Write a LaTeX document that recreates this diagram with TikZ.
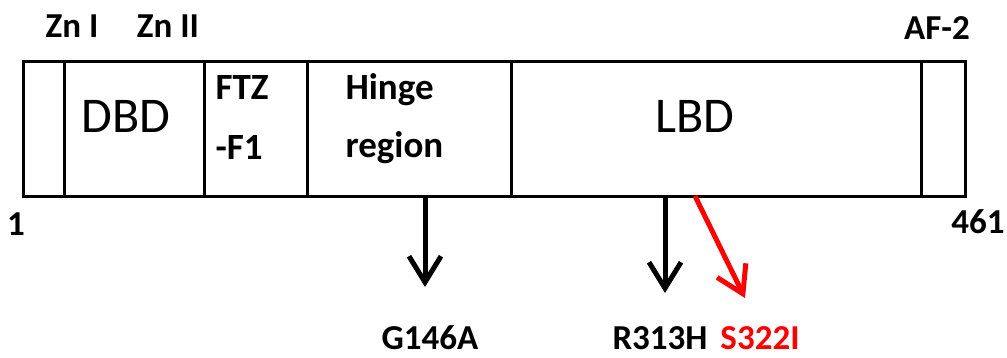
\documentclass[tikz,border=0pt]{standalone}
\usepackage{fontspec}
\setmainfont{Carlito}
\usetikzlibrary{arrows.meta}
\begin{document}
\begin{tikzpicture}[x=1pt,y=-1pt,
  seg/.style={draw,line width=2.8pt,minimum height=135pt,inner sep=0pt,anchor=north west},
  big/.style={font=\fontsize{50}{50}\selectfont,anchor=base},
  mid/.style={font=\bfseries\fontsize{37}{37}\selectfont,anchor=base west},
  lab/.style={font=\bfseries\fontsize{35}{35}\selectfont,anchor=base},
  arr/.style={line width=5pt,-{Straight Barb[length=26pt,width=32pt,line width=5pt]}},
]
\useasboundingbox (0,0) rectangle (1007,358);
\node[seg,minimum width=41pt] (s0) at (22,60) {};
\node[seg,minimum width=140pt] (dbd) at (63,60) {};
\node[seg,minimum width=103pt] (ftz) at (203,60) {};
\node[seg,minimum width=204pt] (hinge) at (306,60) {};
\node[seg,minimum width=410pt] (lbd) at (510,60) {};
\node[seg,minimum width=44pt] (af) at (920,60) {};
% texts
\node[big] (tdbd) at (126,133) {DBD};
\node[big] (tlbd) at (695,133) {LBD};
\node[mid] (tftz1) at (212,100) {FTZ};
\node[mid] (tftz2) at (212,160) {-F1};
\node[mid] (th1) at (342,100) {Hinge};
\node[mid] (th2) at (342,158) {region};
\node[lab] (zn1) at (72,38) {Zn I};
\node[lab] (zn2) at (168,38) {Zn II};
\node[lab] (af2) at (937,40) {AF-2};
\node[lab] (one) at (16,236) {1};
\node[lab] (n461) at (978,234) {461};
\node[lab] (g146) at (430,349) {G146A};
\node[lab] (r313) at (660,349) {R313H};
\node[lab,text=red] (s322) at (760,349) {S322I};
% arrows
\coordinate (a1s) at (425,196); \coordinate (a1e) at (425,287);
\coordinate (a2s) at (665,196); \coordinate (a2e) at (665,293);
\coordinate (a3s) at (695,196); \coordinate (a3e) at (745,298);
\draw[arr] (a1s) -- (a1e);
\draw[arr] (a2s) -- (a2e);
\draw[arr,red] (a3s) -- (a3e);
\end{tikzpicture}
\end{document}
